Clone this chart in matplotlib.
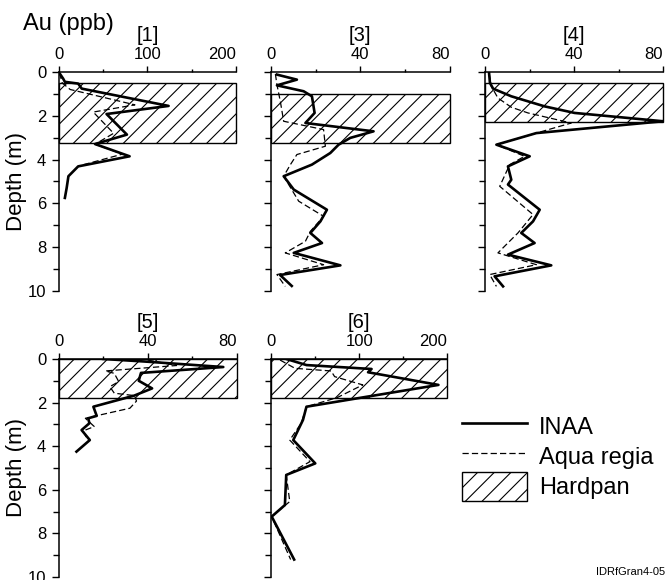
import matplotlib
matplotlib.use('Agg')
import matplotlib.pyplot as plt
from matplotlib.lines import Line2D
from matplotlib.patches import Patch
from matplotlib.ticker import MultipleLocator

plt.rcParams['font.family'] = ['Liberation Sans', 'DejaVu Sans']
plt.rcParams['hatch.linewidth'] = 0.8

# Perfil [1]
p1_inaa_depth = [0, 0.3, 0.45, 0.53, 0.76, 1.55, 1.92, 2.86, 3.29, 3.85, 4.31, 4.76, 5.3, 5.75]
p1_inaa_ppb = [0, 5, 7, 22, 26, 124, 54, 77, 41, 80, 22, 11, 9, 7]
p1_ar_depth = [0.05, 0.5, 0.8, 1.5, 1.83, 2.8, 3.3, 3.75, 4.3]
p1_ar_ppb = [1, 4, 13, 86, 39, 62, 41, 72, 22]
p1_hardpan = (0.5, 3.25)

# Perfil [3]
p3_inaa_depth = [0.12, 0.35, 0.61, 0.88, 1.11, 1.87, 2.33, 2.71, 3.01, 3.32, 3.70, 4.23, 4.76,
                 5.37, 6.29, 6.82, 7.35, 7.81, 8.26, 8.83, 9.27, 9.77]
p3_inaa_ppb = [2.8, 11.7, 2.8, 14.7, 18.4, 19.6, 15.5, 45.9, 35.5, 30.3, 26.6, 18.4, 5.8,
               10.3, 25.1, 22.2, 17.7, 22.9, 10.3, 31.1, 4.2, 9.4]
p3_ar_depth = [0.09, 0.58, 1.34, 2.25, 2.63, 3.39, 3.77, 4.23, 4.76, 5.9, 6.59, 7.28, 7.73,
               8.26, 8.8, 9.25, 9.79]
p3_ar_ppb = [2.1, 2.8, 4.3, 5.8, 23.6, 24.4, 11.7, 8.8, 5.8, 12.5, 23.6, 17.7, 15.5,
             6.5, 23.6, 2.8, 6.5]
p3_hardpan = (1.0, 3.25)

# Perfil [4]
p4_inaa_depth = [0.05, 0.5, 0.76, 1.11, 1.57, 1.87, 2.25, 2.79, 3.32, 3.85, 4.31, 4.92, 5.14,
                 6.29, 6.82, 7.35, 7.81, 8.34, 8.83, 9.33, 9.79]
p4_inaa_ppb = [1.7, 2.1, 3.5, 11.7, 26.7, 40.2, 80, 23, 5, 20, 10.2, 11.7, 10.2,
               24.5, 21.5, 16.2, 22.2, 10.2, 29.7, 4.2, 8]
p4_ar_depth = [0.05, 0.65, 1.19, 1.61, 1.87, 2.33, 2.79, 3.32, 3.85, 4.23, 5.22, 6.51, 7.35,
               8.26, 8.8, 9.25, 9.79]
p4_ar_ppb = [1.7, 2.7, 5.7, 11.7, 19.2, 38.7, 23, 5, 17.7, 11, 6.5, 21.5, 14.7,
             5.7, 23, 2, 5]
p4_hardpan = (0.5, 2.3)

# Perfil [5]
p5_inaa_depth = [0, 0.12, 0.37, 0.64, 1.0, 1.35, 1.68, 2.19, 2.61, 2.72, 2.95, 3.26, 3.72, 4.25]
p5_inaa_ppb = [20, 39, 74, 37, 36, 42, 34, 15.6, 17.1, 13.3, 13.8, 10.3, 14, 8]
p5_ar_depth = [0.05, 0.3, 0.55, 0.66, 1.04, 1.27, 1.57, 1.68, 1.93, 2.26, 2.72, 3.1, 3.3, 3.7]
p5_ar_ppb = [40, 53, 21, 25, 27, 23, 25, 34, 35, 32, 12, 16, 11, 13]
p5_hardpan = (0.0, 1.8)

# Perfil [6]
p6_inaa_depth = [0, 0.28, 0.46, 0.61, 1.19, 2.19, 2.8, 3.72, 4.79, 5.32, 6.7, 7.23, 9.2]
p6_inaa_ppb = [17, 40, 114, 110, 190, 40, 36, 25, 50, 17, 15.5, 0.5, 26]
p6_ar_depth = [0.05, 0.43, 0.55, 0.81, 1.19, 1.77, 2.19, 2.95, 3.72, 4.71, 5.32, 6.54, 7.23, 9.2]
p6_ar_ppb = [10, 27, 68, 72, 104, 75, 40, 34, 21, 44, 17, 21, 0.5, 22]
p6_hardpan = (0.0, 1.8)

paneles = [
    ('[1]', p1_inaa_depth, p1_inaa_ppb, p1_ar_depth, p1_ar_ppb, p1_hardpan, 200, [0.0877, 0.4983, 0.265, 0.3776], True),
    ('[3]', p3_inaa_depth, p3_inaa_ppb, p3_ar_depth, p3_ar_ppb, p3_hardpan, 80, [0.4046, 0.4983, 0.268, 0.3776], False),
    ('[4]', p4_inaa_depth, p4_inaa_ppb, p4_ar_depth, p4_ar_ppb, p4_hardpan, 80, [0.7254, 0.4983, 0.2656, 0.3776], False),
    ('[5]', p5_inaa_depth, p5_inaa_ppb, p5_ar_depth, p5_ar_ppb, p5_hardpan, 80, [0.0877, 0.0052, 0.266, 0.3759], True),
    ('[6]', p6_inaa_depth, p6_inaa_ppb, p6_ar_depth, p6_ar_ppb, p6_hardpan, 200, [0.4055, 0.0052, 0.263, 0.3759], False),
]

fig = plt.figure(figsize=(6.69, 5.8), dpi=100)

for nombre, d_inaa, v_inaa, d_ar, v_ar, hp, xmax, pos, etiquetas in paneles:
    ax = fig.add_axes(pos)
    ax.axhspan(hp[0], hp[1], xmin=0, xmax=1, facecolor='none', edgecolor='black',
               hatch='//', linewidth=1.0, clip_on=False, zorder=1)
    ax.plot(v_ar, d_ar, color='black', lw=0.9, ls=(0, (5, 2.5)), zorder=2)
    ax.plot(v_inaa, d_inaa, color='black', lw=1.9, zorder=3)

    ax.set_xlim(0, xmax)
    ax.set_ylim(10, 0)
    ax.xaxis.tick_top()
    ax.set_xticks([0, xmax / 2, xmax])
    ax.set_xticklabels(['0', f'{xmax // 2}', f'{xmax}'])
    ax.get_xticklabels()[-1].set_ha('right')
    ax.get_xticklabels()[-1].set_x(xmax)
    ax.xaxis.set_minor_locator(MultipleLocator(xmax / 4))
    ax.yaxis.set_major_locator(MultipleLocator(2))
    ax.yaxis.set_minor_locator(MultipleLocator(1))
    ax.tick_params(axis='x', which='major', direction='out', length=4.5, width=1.0, pad=2.5, labelsize=12)
    ax.tick_params(axis='x', which='minor', direction='out', length=2.5, width=1.0)
    ax.tick_params(axis='y', which='major', direction='out', length=5, width=1.0, pad=4, labelsize=12)
    ax.tick_params(axis='y', which='minor', direction='out', length=4.5, width=1.0)
    for lbl in ax.get_xticklabels()[-1:]:
        lbl.set_horizontalalignment('right')
    if not etiquetas:
        ax.set_yticklabels([])
    for s in ['right', 'bottom']:
        ax.spines[s].set_visible(False)
    for s in ['left', 'top']:
        ax.spines[s].set_linewidth(1.1)
    ax.patch.set_alpha(0)
    ax.text(0.5, 1 + 31 / 219, nombre, transform=ax.transAxes, ha='center', va='baseline', fontsize=14.5)
    if etiquetas:
        y_c = pos[1] + pos[3] / 2
        fig.text(16.7 / 669, y_c, 'Depth (m)', rotation=90, ha='center', va='center', fontsize=16)

fig.text(23 / 669, 1 - 30 / 580, 'Au (ppb)', ha='left', va='baseline', fontsize=17)

handles = [Line2D([], [], color='black', lw=1.9),
           Line2D([], [], color='black', lw=0.9, ls=(0, (5, 2.5))),
           Patch(facecolor='white', edgecolor='black', hatch='//', lw=1.0)]
fig.legend(handles, ['INAA', 'Aqua regia', 'Hardpan'], loc='upper left',
           bbox_to_anchor=(462 / 669, 1 - 412 / 580), frameon=False, fontsize=17,
           handlelength=2.75, handleheight=1.5, handletextpad=0.5, labelspacing=0.05,
           borderpad=0, borderaxespad=0)

fig.text(665 / 669, 1 - 572 / 580, 'IDRfGran4-05', ha='right', va='center', fontsize=8)

fig.savefig('out.png', dpi=100)
